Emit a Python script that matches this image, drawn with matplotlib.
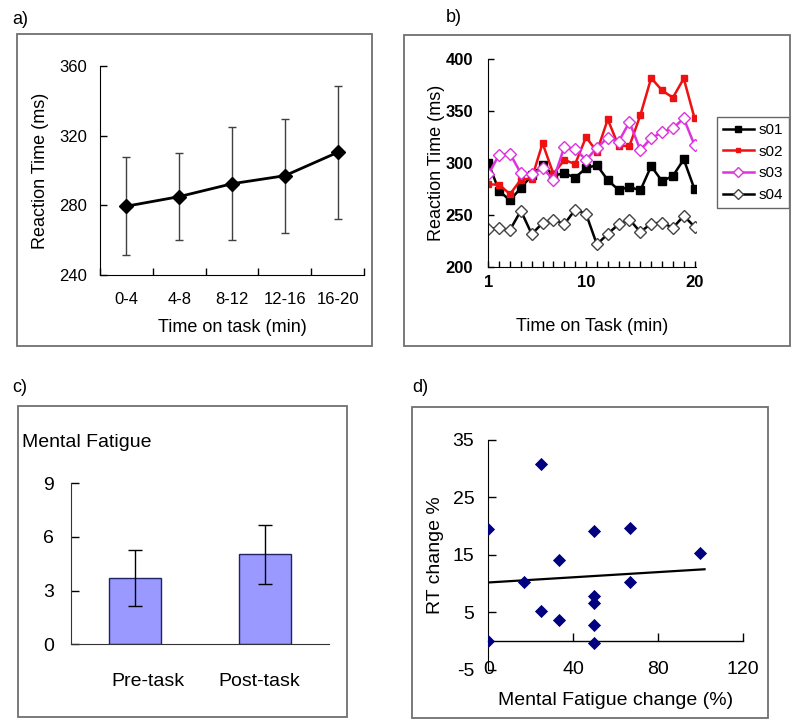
import matplotlib
matplotlib.use("Agg")
import matplotlib.pyplot as plt
from matplotlib.patches import Rectangle
import numpy as np

plt.rcParams['font.family'] = ['Liberation Sans', 'DejaVu Sans']
plt.rcParams['axes.unicode_minus'] = False

# ---- data ----
# panel a
a_cats = ["0-4", "4-8", "8-12", "12-16", "16-20"]
a_rt = [279.5, 285, 292.4, 297, 310.4]
a_err = [28.2, 25, 32.5, 32.7, 38.2]

# panel b
b_time = list(range(1, 21))
s01 = [300, 273, 264, 276, 288, 298.5, 288, 290, 286, 295, 298, 283.5, 274, 277, 273.5, 297, 282.5, 287.5, 303.5, 274.5]
s02 = [279.5, 279, 270, 284, 285, 319, 289.5, 303, 299, 325, 311, 342, 316.5, 316.5, 346, 382, 370, 363, 381.5, 343]
s03 = [289, 308, 309, 290, 289, 295, 284, 315.5, 313.5, 303, 314.5, 324.5, 320.5, 339.5, 312.5, 324, 329.5, 333.5, 343, 317]
s04 = [236.5, 237, 235.5, 254, 231.5, 242, 245.5, 241, 255, 251, 221.5, 231.5, 241, 245.5, 233.5, 241.5, 242.5, 237.5, 249, 238.5]
b_tick_labels = ["1"] + [""] * 8 + ["10"] + [""] * 9 + ["20"]

# panel c
c_cats = ["Pre-task", "Post-task"]
c_vals = [3.7, 5.03]
c_err = [1.56, 1.64]

# panel d
d_fatigue = [0, 0, 25, 16.7, 25, 33.3, 33.3, 50, 50, 50, 50, 50, 66.7, 66.7, 100]
d_rt = [19.5, 0.0, 30.8, 10.3, 5.3, 14.1, 3.6, 19.1, 7.8, 6.7, 2.8, -0.4, 19.7, 10.3, 15.4]
d_trend_x = [0, 102]
d_trend_y = [10.2, 12.5]

W, H = 800, 724
fig = plt.figure(figsize=(W / 100, H / 100), dpi=100)


def fax(l, r, t, b):
    return fig.add_axes([l / W, 1 - b / H, (r - l) / W, (b - t) / H])


def box(l, t, r, b):
    fig.add_artist(Rectangle((l / W, 1 - b / H), (r - l) / W, (b - t) / H,
                             transform=fig.transFigure, fill=False,
                             edgecolor='#707070', linewidth=1.3))


box(17, 34, 372, 346)
box(404, 35, 790, 346)
box(18, 406, 347, 717)
box(412, 407, 768, 718)

fig.text(12 / W, 1 - 20 / H, "a)", fontsize=13, va='center', ha='left')
fig.text(446 / W, 1 - 17 / H, "b)", fontsize=13, va='center', ha='left')
fig.text(12 / W, 1 - 387 / H, "c)", fontsize=13, va='center', ha='left')
fig.text(412 / W, 1 - 387 / H, "d)", fontsize=13, va='center', ha='left')

# ---- panel a ----
axA = fax(100, 364, 66, 275)
xa = np.arange(len(a_cats))
axA.errorbar(xa, a_rt, yerr=a_err, fmt='none', ecolor='#404040', elinewidth=1,
             capsize=3, capthick=1)
axA.plot(xa, a_rt, color='black', lw=2, marker='D', ms=7)
axA.set_xlim(-0.5, len(a_cats) - 0.5)
axA.set_ylim(240, 360)
axA.set_yticks([240, 280, 320, 360])
axA.set_xticks(xa)
axA.set_xticklabels(a_cats)
axA.set_xticks(np.arange(-0.5, len(a_cats)), minor=True)
axA.tick_params(axis='x', which='major', length=0, pad=12, labelsize=12)
axA.tick_params(axis='x', which='minor', direction='in', length=5, width=1)
axA.tick_params(axis='y', direction='in', length=5, width=1, pad=9, labelsize=12)
for s in ['top', 'right']:
    axA.spines[s].set_visible(False)
axA.set_ylabel("Reaction Time (ms)", fontsize=13, labelpad=8)
axA.set_xlabel("Time on task (min)", fontsize=13, labelpad=9)

# ---- panel b ----
axB = fax(488.3, 695.7, 59.3, 266.7)
axB.plot(b_time, s01, color='black', lw=1.8, marker='s', ms=6, label='s01')
axB.plot(b_time, s02, color='#ee1111', lw=1.8, marker='s', ms=4, label='s02')
axB.plot(b_time, s03, color='#dd33dd', lw=1.8, marker='D', ms=6,
         mfc='white', mec='#dd33dd', mew=1, label='s03')
axB.plot(b_time, s04, color='black', lw=1.8, marker='D', ms=6,
         mfc='white', mec='#444444', mew=1, label='s04')
axB.set_xlim(1, 20.1)
axB.set_ylim(200, 400)
axB.set_yticks([200, 250, 300, 350, 400])
axB.set_xticks(b_time)
axB.set_xticklabels(b_tick_labels)
axB.tick_params(axis='x', direction='in', length=4, width=1, pad=6, labelsize=12)
axB.tick_params(axis='y', direction='in', length=4, width=1, pad=11, labelsize=12)
for lbl in axB.get_xticklabels() + axB.get_yticklabels():
    lbl.set_fontweight('bold')
for s in ['top', 'right']:
    axB.spines[s].set_visible(False)
axB.set_ylabel("Reaction Time (ms)", fontsize=13, labelpad=0)
axB.set_xlabel("Time on Task (min)", fontsize=13, labelpad=20)
leg = axB.legend(loc='upper left', bbox_to_anchor=(717 / W, 1 - 117 / H),
                 bbox_transform=fig.transFigure, borderaxespad=0, fontsize=11,
                 frameon=True, fancybox=False, handlelength=2.0,
                 handletextpad=0.3, labelspacing=0.5, borderpad=0.4,
                 markerscale=0.8)
leg.get_frame().set_edgecolor('#404040')
leg.get_frame().set_linewidth(1)

# ---- panel c ----
axC = fax(70.7, 329.3, 483.3, 644.3)
xc = [0.5, 1.5]
axC.bar(xc, c_vals, width=0.4, color='#9999ff', edgecolor='#222266', linewidth=1)
axC.errorbar(xc, c_vals, yerr=c_err, fmt='none', ecolor='black', elinewidth=1,
             capsize=5, capthick=1)
axC.set_xlim(0, 2)
axC.set_ylim(0, 9)
axC.set_yticks([0, 3, 6, 9])
axC.set_xticks([0.6, 1.46])
axC.set_xticklabels(c_cats)
axC.tick_params(axis='x', length=0, pad=21, labelsize=14)
axC.tick_params(axis='y', direction='in', length=6, width=1, pad=12, labelsize=14)
for s in ['top', 'right']:
    axC.spines[s].set_visible(False)
for s in ['left', 'bottom']:
    axC.spines[s].set_color('#333333')
fig.text(22 / W, 1 - 442 / H, "Mental Fatigue", fontsize=14, va='center', ha='left')

# ---- panel d ----
axD = fax(488.3, 742.7, 440, 669.8)
axD.scatter(d_fatigue, d_rt, marker='D', s=45, color='#000080', zorder=3,
            linewidths=0)
axD.plot(d_trend_x, d_trend_y, color='black', lw=1.6)
axD.set_xlim(0, 120)
axD.set_ylim(-5, 35)
axD.set_yticks([-5, 5, 15, 25, 35])
axD.set_xticks([0, 40, 80, 120])
axD.tick_params(axis='y', direction='in', length=6, width=1, pad=10, labelsize=14)
axD.tick_params(axis='x', length=0, pad=0, labelsize=14)
for lbl in axD.get_xticklabels():
    lbl.set_va('center')
for s in ['top', 'right', 'bottom']:
    axD.spines[s].set_visible(False)
sec = axD.secondary_xaxis(5 / 40)
sec.set_xticks([40, 80, 120])
sec.tick_params(axis='x', direction='in', length=6, width=1, labelbottom=False)
sec.spines['bottom'].set_linewidth(1)
axD.set_ylabel("RT change %", fontsize=14, labelpad=6)
axD.set_xlabel("Mental Fatigue change (%)", fontsize=14, labelpad=10)

fig.savefig("out.png", dpi=100)
